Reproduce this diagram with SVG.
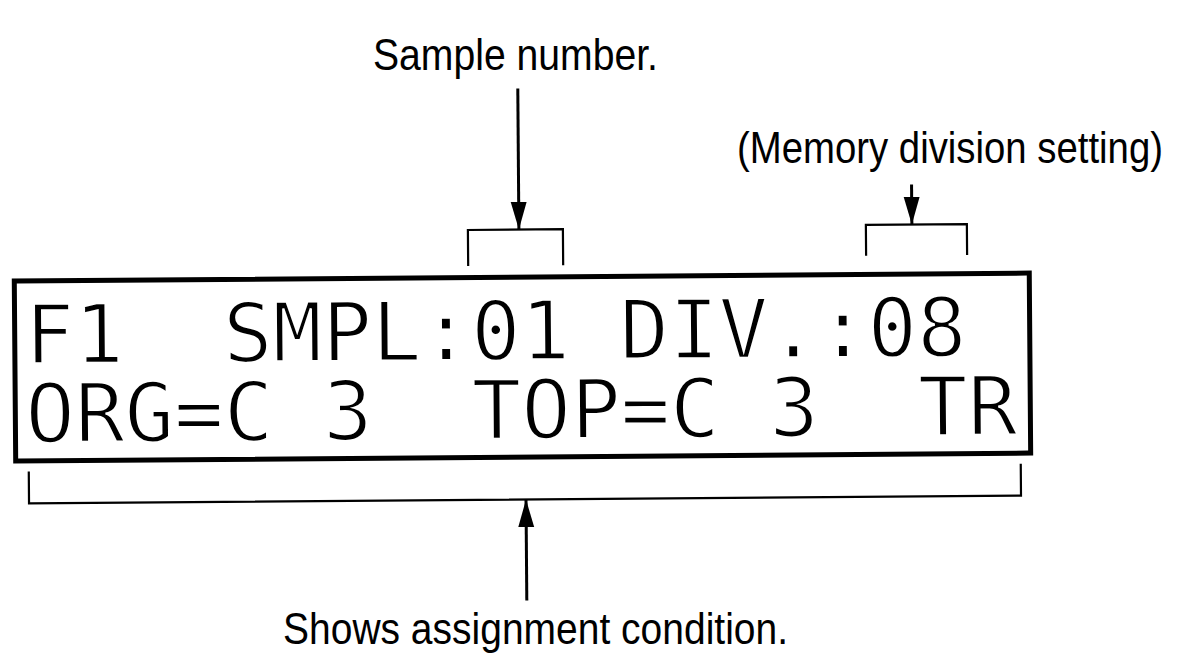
<svg xmlns="http://www.w3.org/2000/svg" width="1186" height="662" viewBox="0 0 1186 662">
  <defs>
    <style>
      .label { font-family: "Liberation Sans", Arial, sans-serif; font-size: 44px; fill: #000; }
      .lcd { font-family: "DejaVu Sans Mono", "Liberation Mono", monospace; font-size: 82px; fill: #000; stroke: #fff; stroke-width: 2.2px; }
      .box { fill: none; stroke: #000; stroke-width: 5; }
      .bracket { fill: none; stroke: #000; stroke-width: 2.2; }
      .arrow { fill: none; stroke: #000; stroke-width: 3; marker-end: url(#head); }
    </style>
    <marker id="head" markerUnits="userSpaceOnUse" markerWidth="30" markerHeight="20" viewBox="-26 -9 28 18" refX="0" refY="0" orient="auto">
      <path d="M0,0 L-26,-7.5 L-26,7.5 Z" fill="#000"/>
    </marker>
  </defs>
  <rect width="1186" height="662" fill="#fff"/>
  <g id="label-sample">
    <text class="label" x="373" y="70" textLength="285" lengthAdjust="spacingAndGlyphs">Sample number.</text>
  </g>
  <g id="label-memory">
    <text class="label" x="737" y="163" textLength="426" lengthAdjust="spacingAndGlyphs">(Memory division setting)</text>
  </g>
  <g id="label-assign">
    <text class="label" x="283" y="644" textLength="505" lengthAdjust="spacingAndGlyphs">Shows assignment condition.</text>
  </g>
  <g transform="rotate(-0.45 593 370)">
    <g id="lcd-display">
      <rect class="box" x="15" y="276.5" width="1015" height="180"/>
      <text class="lcd" x="25" y="359" xml:space="preserve" textLength="942" lengthAdjust="spacingAndGlyphs">F1  SMPL:01 DIV.:08</text>
      <text class="lcd" x="25" y="438" xml:space="preserve" textLength="992" lengthAdjust="spacingAndGlyphs">ORG=C 3  TOP=C 3  TR</text>
    </g>
    <g id="connectors">
      <path class="bracket" d="M469,265 V229 H564 V265"/>
      <path class="bracket" d="M867,258 V227 H968 V258"/>
      <path class="bracket" d="M28,467 V499 H1020 V467"/>
      <line class="arrow" x1="520" y1="88" x2="520" y2="229"/>
      <line class="arrow" x1="913" y1="187" x2="913" y2="227"/>
      <line class="arrow" x1="525" y1="600" x2="525" y2="499"/>
    </g>
  </g>
</svg>
